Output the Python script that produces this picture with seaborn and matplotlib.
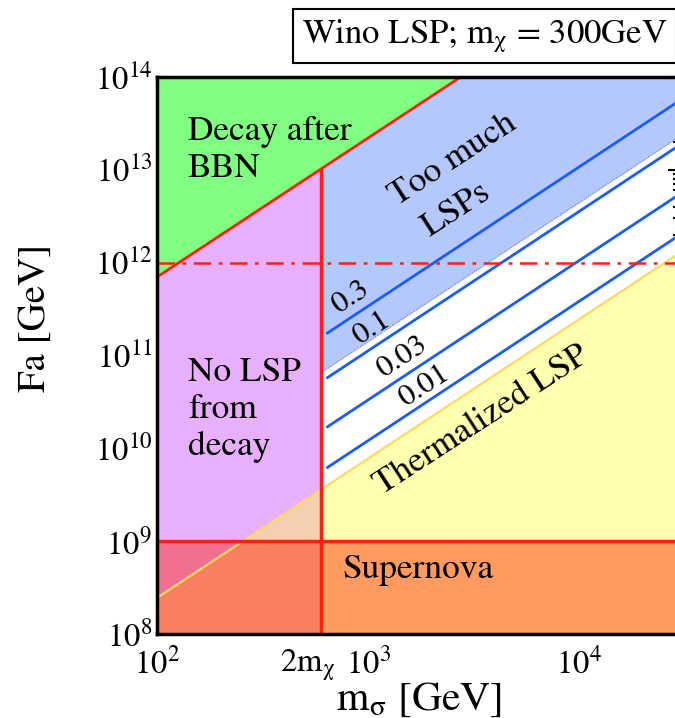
import numpy as np
import matplotlib
matplotlib.use('Agg')
import matplotlib.pyplot as plt
import matplotlib.transforms as mtransforms
import seaborn as sns
from matplotlib.ticker import NullFormatter

# boundary lines at m_sigma = 100 GeV and 3e4 GeV
m_edges = [100, 30000]
bbn_fa = [7.0e11, 3.6e15]          # decay after BBN
thermal_fa = [2.45e8, 1.28e12]     # thermalized LSP
overclose_fa = [4.5e9, 2.3e13]     # too much LSPs boundary
m_cut = 600                        # 2 m_chi
fa_supernova = 1e9
fa_dashed = 1e12

# relic abundance contours
contour_labels = ['0.3', '0.1', '0.03', '0.01']
contour_m = [640, 30000]
contour_fa_lo = [1.74e11, 5.75e10, 1.7e10, 6.2e9]
contour_fa_hi = [5.6e13, 1.86e13, 5.5e12, 2.0e12]
contour_text_m = [830, 1045, 1450, 1840]
contour_text_fa = [4.2e11, 1.97e11, 9.6e10, 4.68e10]

xtick_values = [100, 600, 1000, 10000]
xtick_labels = [r'$10^{2}$', r'$2\mathrm{m}_{\mathrm{χ}}$', r'$10^{3}$', r'$10^{4}$']

sns.set_theme(style='ticks')
plt.rcParams['font.family'] = ['STIXGeneral', 'DejaVu Serif']
plt.rcParams['mathtext.fontset'] = 'stix'
for key in ['text.color', 'axes.labelcolor', 'xtick.color', 'ytick.color', 'axes.edgecolor']:
    plt.rcParams[key] = 'black'

fig = plt.figure(figsize=(6.75, 7.18), dpi=100)
ax = fig.add_axes([157 / 675, 84 / 718, 523 / 675, 557 / 718])
ax.set_xscale('log')
ax.set_yscale('log')
ax.set_xlim(100, 3e4)
ax.set_ylim(1e8, 1e14)

m = np.unique(np.concatenate([np.geomspace(m_edges[0], m_edges[1], 800), [m_cut]]))


def boundary(fa):
    return 10 ** np.interp(np.log10(m), np.log10(m_edges), np.log10(fa))


bbn = boundary(bbn_fa)
th = boundary(thermal_fa)
oc = boundary(overclose_fa)
top = 1e14
lft = m <= m_cut
rgt = m >= m_cut

# filled regions
ax.fill_between(m, np.minimum(bbn, top), top, color='#80FF80', lw=0)
ax.fill_between(m[lft], np.maximum(th[lft], fa_supernova), bbn[lft], color='#E8B0FC', lw=0)
ax.fill_between(m[lft], fa_supernova, np.maximum(th[lft], fa_supernova), color='#F4D0B0', lw=0)
ax.fill_between(m[lft], np.minimum(th[lft], fa_supernova), fa_supernova, color='#F07090', lw=0)
ax.fill_between(m[lft], 1e8, np.minimum(th[lft], fa_supernova), color='#F88060', lw=0)
ax.fill_between(m[rgt], oc[rgt], np.minimum(bbn[rgt], top), color='#B4C8FC', lw=0)
ax.fill_between(m[rgt], fa_supernova, th[rgt], color='#FFFFB0', lw=0)
ax.fill_between(m[rgt], 1e8, fa_supernova, color='#FF9A60', lw=0)

# boundary lines
ax.plot(m, th, color='#FFD860', lw=1.6)
ax.plot(m[rgt], oc[rgt], color='#6060FF', lw=0.7, ls=':')
for lab, lo, hi in zip(contour_labels, contour_fa_lo, contour_fa_hi):
    sns.lineplot(x=contour_m, y=[lo, hi], ax=ax, color='#1A5CFF', lw=2, legend=False)
ax.plot(m, bbn, color='#FF2010', lw=2)
ax.axhline(fa_dashed, color='#FF2010', lw=1.8, ls=(0, (7, 3, 1.5, 3)))
ax.axhline(fa_supernova, color='#FF2010', lw=2.5)
ax.plot([m_cut, m_cut], [1e8, bbn[m == m_cut][0]], color='#FF2010', lw=2.5)

# region labels
fs = 25.5
ax.text(140, 1.6e13, 'Decay after\nBBN', fontsize=fs, ha='left', va='center', linespacing=1.2)
ax.text(140, 2.6e10, 'No LSP\nfrom\ndecay', fontsize=fs, ha='left', va='center', linespacing=1.2)
ax.text(760, 4.9e8, 'Supernova', fontsize=fs, ha='left', va='center')
ax.text(2530, 1.28e13, 'Too much', fontsize=fs, ha='center', va='center', rotation=33)
ax.text(2610, 3.69e12, 'LSPs', fontsize=fs, ha='center', va='center', rotation=33)
ax.text(3470, 2.0e10, 'Thermalized LSP', fontsize=fs, ha='center', va='center', rotation=33)
for lab, tx, ty in zip(contour_labels, contour_text_m, contour_text_fa):
    ax.text(tx, ty, lab, fontsize=22.5, ha='center', va='center', rotation=33)

# axes styling
ax.set_xticks(xtick_values, labels=xtick_labels)
ax.xaxis.set_minor_formatter(NullFormatter())
ax.yaxis.set_minor_formatter(NullFormatter())
ax.tick_params(which='both', direction='in', top=True, right=True, width=1.5, labelsize=23.5)
ax.tick_params(which='major', length=9)
ax.tick_params(which='minor', length=5)
ax.tick_params(axis='x', pad=10)
for sp in ax.spines.values():
    sp.set_linewidth(2.5)
    sp.set_color('black')
    sp.set_visible(True)

# nudge the 2m_chi tick label left so it clears 10^3
shift = mtransforms.ScaledTranslation(-14 / 100, 0, fig.dpi_scale_trans)
lbl = ax.get_xticklabels()[1]
lbl.set_transform(lbl.get_transform() + shift)

ax.set_xlabel(r'm$_{\mathrm{σ}}$ [GeV]', fontsize=30, labelpad=-2)
ax.set_ylabel('Fa [GeV]', fontsize=28)
ax.yaxis.set_label_coords(-0.20, 0.567)

fig.text(302 / 675, 1 - 36 / 718, r'Wino LSP; m$_{\mathrm{χ}}$ = 300GeV', fontsize=25,
         ha='left', va='center',
         bbox=dict(boxstyle='square,pad=0.25', fc='white', ec='black', lw=1.5))

fig.savefig('out.png', dpi=100)
